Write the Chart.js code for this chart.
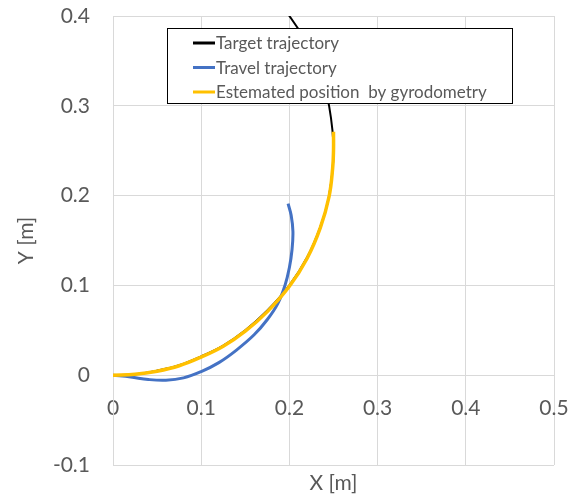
<!DOCTYPE html>
<html>
<head>
<meta charset="utf-8">
<script src="https://cdn.jsdelivr.net/npm/chart.js@4/dist/chart.umd.min.js"></script>
<style>
   body { margin: 0; background: #ffffff; }
   #chart-box { width: 570px; height: 496px; }
</style>
</head>
<body>
<div id="chart-box"><canvas id="trajectoryChart" width="570" height="496"></canvas></div>
<script>
// values, [x, y] in metres
const targetX = [0, 0.025, 0.05, 0.075, 0.1, 0.125, 0.15, 0.175, 0.2, 0.22, 0.235, 0.245, 0.25, 0.245, 0.235, 0.22, 0.2, 0.175, 0.15];
const targetY = [0, 0.001, 0.005, 0.011, 0.021, 0.033, 0.05, 0.072, 0.1, 0.131, 0.165, 0.2, 0.25, 0.3, 0.335, 0.369, 0.4, 0.428, 0.45];

const travelX = [0, 0.02, 0.04, 0.06, 0.08, 0.1, 0.12, 0.14, 0.16, 0.175, 0.187, 0.195, 0.2, 0.203, 0.204, 0.202, 0.1985];
const travelY = [0, -0.002, -0.0048, -0.0056, -0.003, 0.004, 0.014, 0.028, 0.045, 0.062, 0.08, 0.1, 0.12, 0.14, 0.16, 0.178, 0.191];

const gyroX = [0, 0.025, 0.05, 0.075, 0.1, 0.125, 0.15, 0.175, 0.2, 0.22, 0.235, 0.245, 0.249, 0.25, 0.25];
const gyroY = [0, 0.001, 0.0045, 0.0105, 0.0202, 0.0322, 0.049, 0.0708, 0.099, 0.13, 0.164, 0.199, 0.23, 0.25, 0.271];

const seriesNames = ["Target trajectory", "Travel trajectory", "Estemated position  by gyrodometry"];
const seriesColors = ["#000000", "#4472C4", "#FFC000"];

const xTicks = [0, 0.1, 0.2, 0.3, 0.4, 0.5];
const yTicks = [-0.1, 0, 0.1, 0.2, 0.3, 0.4];

const textColor = "#595959";
const gridColor = "#D9D9D9";
const fontFamily = "Lato, 'Open Sans', sans-serif";

function toPoints(xs, ys) {
   return xs.map((x, i) => ({ x: x, y: ys[i] }));
}

// keep the labels from pushing the plot area inwards
function noPadding(scale) {
   scale.paddingTop = 0;
   scale.paddingBottom = 0;
   scale.paddingLeft = 0;
   scale.paddingRight = 0;
}

// legend box drawn inside the plot, like the original
const boxLegend = {
   id: "boxLegend",
   afterDraw(chart) {
      const ctx = chart.ctx;
      const left = 167, top = 28, width = 345, height = 75;
      ctx.save();
      ctx.fillStyle = "#ffffff";
      ctx.fillRect(left, top, width, height);
      ctx.strokeStyle = "#000000";
      ctx.lineWidth = 1;
      ctx.strokeRect(left + 0.5, top + 0.5, width, height);
      ctx.font = "17px " + fontFamily;
      ctx.textBaseline = "middle";
      ctx.fillStyle = textColor;
      seriesNames.forEach((name, i) => {
         const rowY = 43 + i * 24.5;
         ctx.strokeStyle = seriesColors[i];
         ctx.lineWidth = 3;
         ctx.beginPath();
         ctx.moveTo(193, rowY);
         ctx.lineTo(215, rowY);
         ctx.stroke();
         ctx.fillText(name, 216, rowY + 1);
      });
      ctx.restore();
   }
};

document.addEventListener("DOMContentLoaded", function () {
   const ctx = document.getElementById("trajectoryChart").getContext("2d");
   new Chart(ctx, {
      type: "scatter",
      data: {
         datasets: [
            { label: seriesNames[0], data: toPoints(targetX, targetY), borderColor: seriesColors[0], borderWidth: 2, order: 3 },
            { label: seriesNames[1], data: toPoints(travelX, travelY), borderColor: seriesColors[1], borderWidth: 3, order: 2 },
            { label: seriesNames[2], data: toPoints(gyroX, gyroY), borderColor: seriesColors[2], borderWidth: 3.5, order: 1 }
         ]
      },
      options: {
         responsive: false,
         animation: false,
         showLine: true,
         elements: {
            point: { radius: 0, hoverRadius: 0 },
            line: { tension: 0.4, fill: false }
         },
         layout: { padding: { top: 16, right: 16, bottom: 0, left: 0 } },
         plugins: {
            legend: { display: false },
            tooltip: { enabled: false }
         },
         scales: {
            x: {
               type: "linear",
               position: { y: 0 },
               min: 0,
               max: 0.5,
               afterFit: noPadding,
               afterBuildTicks: scale => { scale.ticks = xTicks.map(v => ({ value: v })); },
               grid: { color: gridColor, drawTicks: false },
               border: { color: gridColor },
               ticks: {
                  color: textColor,
                  padding: 20,
                  maxRotation: 0,
                  font: { size: 21, family: fontFamily },
                  callback: v => String(Math.round(v * 10) / 10)
               }
            },
            x2: {
               type: "linear",
               position: "bottom",
               min: 0,
               max: 0.5,
               afterFit: scale => { noPadding(scale); scale.height = 31; },
               grid: { display: false },
               border: { display: false },
               ticks: { display: false },
               title: {
                  display: true,
                  text: "X [m]",
                  color: textColor,
                  padding: { top: 0, bottom: 0 },
                  font: { size: 21, family: fontFamily }
               }
            },
            y: {
               type: "linear",
               position: "left",
               min: -0.1,
               max: 0.4,
               afterFit: scale => { noPadding(scale); scale.width = 113; },
               afterBuildTicks: scale => { scale.ticks = yTicks.map(v => ({ value: v })); },
               grid: { color: gridColor, drawTicks: false },
               border: { color: gridColor },
               ticks: {
                  color: textColor,
                  padding: 23,
                  font: { size: 21, family: fontFamily },
                  callback: v => String(Math.round(v * 10) / 10)
               },
               title: {
                  display: true,
                  text: "Y [m]",
                  color: textColor,
                  padding: { top: 14, bottom: 0 },
                  font: { size: 21, family: fontFamily }
               }
            }
         }
      },
      plugins: [boxLegend]
   });
});
</script>
</body>
</html>
